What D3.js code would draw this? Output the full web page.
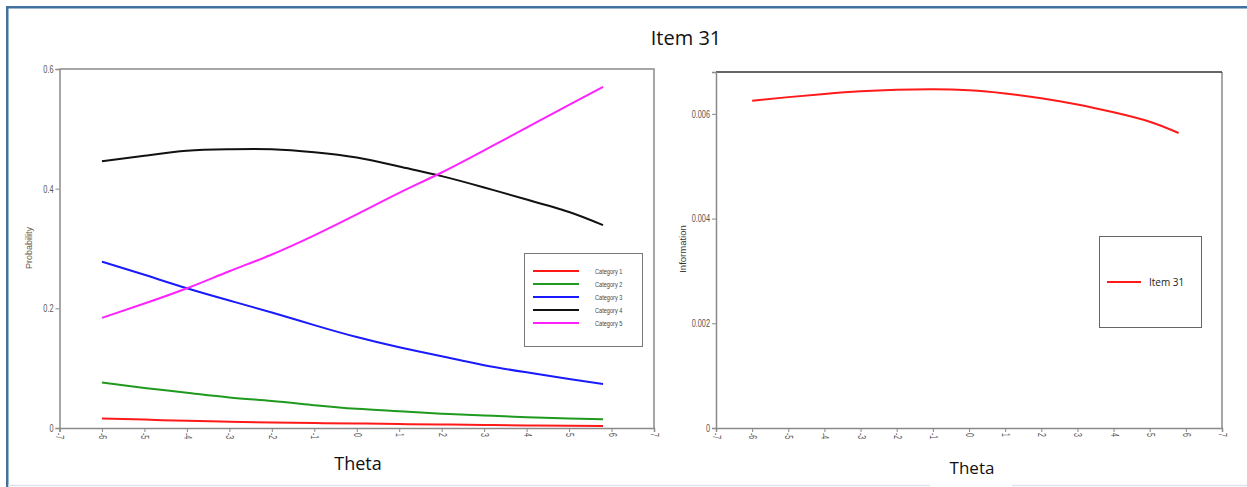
<!DOCTYPE html>
<html>
<head>
<meta charset="utf-8">
<script src="https://cdn.jsdelivr.net/npm/d3@7"></script>
<style>
  body { margin: 0; background: #fff; }
  svg { display: block; }
  .tick text { font-family: "Liberation Sans", Arial, sans-serif; fill: #555; }
  .domain, .tick line { stroke: #8a8a8a; }
</style>
</head>
<body>
<svg id="chart" width="1247" height="487"></svg>
<script>
// theta grid the curves were read at
var theta = [-6, -5, -4, -3, -2, -1, 0, 1, 2, 3, 4, 5, 5.8];

// category response probabilities
var cat1 = [0.016, 0.014, 0.012, 0.0105, 0.0093, 0.0083, 0.0075, 0.0065, 0.0058, 0.005, 0.0043, 0.0038, 0.0033];
var cat2 = [0.076, 0.067, 0.059, 0.051, 0.045, 0.038, 0.032, 0.028, 0.024, 0.021, 0.018, 0.016, 0.0145];
var cat3 = [0.278, 0.256, 0.2335, 0.213, 0.193, 0.172, 0.152, 0.135, 0.120, 0.105, 0.093, 0.082, 0.0735];
var cat4 = [0.446, 0.455, 0.4635, 0.466, 0.466, 0.461, 0.452, 0.437, 0.421, 0.402, 0.382, 0.361, 0.339];
var cat5 = [0.184, 0.208, 0.2335, 0.262, 0.290, 0.322, 0.357, 0.393, 0.427, 0.464, 0.502, 0.540, 0.570];

// item information
var info31 = [0.00625, 0.00632, 0.00638, 0.00643, 0.00646, 0.00647, 0.00645, 0.00639, 0.00630, 0.00618, 0.00603, 0.00585, 0.005635];

var categoryNames = ["Category 1", "Category 2", "Category 3", "Category 4", "Category 5"];
var categoryColors = ["#ff1a1a", "#1f9a1f", "#1a1aff", "#111111", "#ff22ff"];
var xTicks = d3.range(-7, 8);
var probTicks = [0, 0.2, 0.4, 0.6];
var infoTicks = [0, 0.002, 0.004, 0.006];

var squeeze = 0.7; // tick labels in the original are a narrow face

var svg = d3.select("#chart");

// outer slide frame
svg.append("path")
    .attr("d", "M7.25,487 V7.25 H1247")
    .attr("fill", "none")
    .attr("stroke", "#41719c")
    .attr("stroke-width", 2.5);
svg.append("path")
    .attr("d", "M8,485.5 H930 M1012,485.5 H1247")
    .attr("stroke", "#dde4ea")
    .attr("stroke-width", 1.5);

svg.append("text")
    .attr("x", 686).attr("y", 45)
    .attr("text-anchor", "middle")
    .style("font-family", "'Open Sans', sans-serif")
    .style("font-size", "20px")
    .attr("fill", "#111")
    .text("Item 31");

function drawAxes(g, x, y, yTicks, yFmt) {
  var xa = g.append("g")
      .attr("transform", "translate(0," + y.range()[0] + ")")
      .call(d3.axisBottom(x).tickValues(xTicks).tickSize(4).tickFormat(function(d) { return String(d); }));
  xa.selectAll(".tick text")
      .attr("transform", "rotate(90) scale(" + squeeze + ",1)")
      .attr("x", 5 / squeeze).attr("y", 0).attr("dy", "0.35em")
      .style("text-anchor", "start")
      .style("font-size", "10px");
  var ya = g.append("g")
      .attr("transform", "translate(" + x.range()[0] + ",0)")
      .call(d3.axisLeft(y).tickValues(yTicks).tickSize(4).tickFormat(yFmt));
  ya.selectAll(".tick text")
      .attr("transform", "scale(" + squeeze + ",1)")
      .attr("x", -6 / squeeze)
      .style("font-size", "10.5px");
  g.selectAll(".domain").attr("stroke-width", 1.5);
}

// ---- left: category probability curves ----
var xL = d3.scaleLinear().domain([-7, 7]).range([59.5, 654]);
var yL = d3.scaleLinear().domain([0, 0.6]).range([428, 69]);
var left = svg.append("g");

left.append("path")
    .attr("d", "M" + xL(-7) + "," + yL(0.6) + " H" + xL(7) + " V" + yL(0))
    .attr("fill", "none").attr("stroke", "#8a8a8a").attr("stroke-width", 1.5);
drawAxes(left, xL, yL, probTicks, function(d) { return d === 0 ? "0" : d3.format(".1f")(d); });

var lineL = d3.line()
    .curve(d3.curveNatural)
    .x(function(d, i) { return xL(theta[i]); })
    .y(function(d) { return yL(d); });

[cat1, cat2, cat3, cat4, cat5].forEach(function(s, i) {
  left.append("path")
      .datum(s)
      .attr("d", lineL)
      .attr("fill", "none")
      .attr("stroke", categoryColors[i])
      .attr("stroke-width", 2);
});

left.append("text")
    .attr("transform", "translate(32,248) rotate(-90)")
    .attr("text-anchor", "middle")
    .style("font-family", "'Liberation Sans', sans-serif")
    .style("font-size", "9px")
    .attr("fill", "#6b5a44")
    .text("Probability");

left.append("text")
    .attr("x", 358).attr("y", 470)
    .attr("text-anchor", "middle")
    .style("font-family", "'Open Sans', sans-serif")
    .style("font-size", "18px")
    .attr("fill", "#111")
    .text("Theta");

var legL = left.append("g").attr("transform", "translate(524,253)");
legL.append("rect")
    .attr("x", 0.5).attr("y", 0.5).attr("width", 118).attr("height", 93)
    .attr("fill", "#fff").attr("stroke", "#777");
categoryNames.forEach(function(name, i) {
  var yy = 18 + i * 13;
  legL.append("line")
      .attr("x1", 9).attr("x2", 55).attr("y1", yy).attr("y2", yy)
      .attr("stroke", categoryColors[i]).attr("stroke-width", 2);
  legL.append("text")
      .attr("transform", "translate(71," + (yy + 2.5) + ") scale(0.8,1)")
      .style("font-family", "'Liberation Sans', sans-serif")
      .style("font-size", "7px")
      .attr("fill", "#444")
      .text(name);
});

// ---- right: item information ----
var xR = d3.scaleLinear().domain([-7, 7]).range([716, 1222]);
var yR = d3.scaleLinear().domain([0, 0.0068]).range([428, 72]);
var right = svg.append("g");

right.append("path")
    .attr("d", "M" + xR(7) + "," + yR(0.0068) + " V" + yR(0))
    .attr("fill", "none").attr("stroke", "#8a8a8a").attr("stroke-width", 1.5);
right.append("path")
    .attr("d", "M" + xR(-7) + "," + yR(0.0068) + " H" + xR(7))
    .attr("fill", "none").attr("stroke", "#333").attr("stroke-width", 1.5);
drawAxes(right, xR, yR, infoTicks, function(d) { return d === 0 ? "0" : d3.format(".3f")(d); });
right.selectAll(".domain").attr("stroke", "#b5b5b5");

var lineR = d3.line()
    .curve(d3.curveNatural)
    .x(function(d, i) { return xR(theta[i]); })
    .y(function(d) { return yR(d); });

right.append("path")
    .datum(info31)
    .attr("d", lineR)
    .attr("fill", "none")
    .attr("stroke", "#ff1a1a")
    .attr("stroke-width", 2);

right.append("text")
    .attr("transform", "translate(686,249) rotate(-90)")
    .attr("text-anchor", "middle")
    .style("font-family", "'Liberation Sans', sans-serif")
    .style("font-size", "9.5px")
    .attr("fill", "#333")
    .text("Information");

right.append("text")
    .attr("x", 972).attr("y", 474)
    .attr("text-anchor", "middle")
    .style("font-family", "'Open Sans', sans-serif")
    .style("font-size", "17px")
    .attr("fill", "#111")
    .text("Theta");

var legR = right.append("g").attr("transform", "translate(1099,236)");
legR.append("rect")
    .attr("x", 0.5).attr("y", 0.5).attr("width", 102).attr("height", 91)
    .attr("fill", "#fff").attr("stroke", "#666");
legR.append("line")
    .attr("x1", 8).attr("x2", 42).attr("y1", 46).attr("y2", 46)
    .attr("stroke", "#ff1a1a").attr("stroke-width", 2);
legR.append("text")
    .attr("x", 50).attr("y", 49.5)
    .style("font-family", "'Open Sans', sans-serif")
    .style("font-size", "10px")
    .attr("fill", "#222")
    .text("Item 31");
</script>
</body>
</html>
